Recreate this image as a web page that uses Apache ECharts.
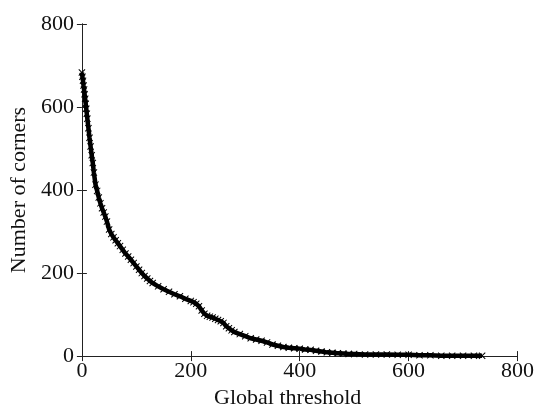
<!DOCTYPE html>
<html>
<head>
<meta charset="utf-8">
<script src="https://cdn.jsdelivr.net/npm/echarts@6/dist/echarts.min.js"></script>
<style>html,body{margin:0;padding:0;background:#fff;}#c{width:537px;height:414px;}</style>
</head>
<body>
<div id="c"></div>
<script>
const thresholds = [0,1,2,3,4,5,6,7,8,9,10,12,14,16,18,20,22,25,28,31,34,37,40,43,46,50,54,58,62,66,70,75,80,85,90,95,100,105,110,115,120,125,130,140,150,160,170,180,190,200,205,210,215,220,225,230,235,240,245,250,255,260,265,270,275,280,290,300,310,320,330,340,350,360,370,380,390,400,410,420,430,440,450,460,470,480,490,500,520,540,560,580,600,620,640,660,680,700,720,735];
const corners = [683,673,663,652,642,631,620,608,596,584,572,549,526,505,484,465,442,413,398,382,368,356,346,336,324,305,294,286,279,272,265,256,247,240,232,224,216,208,200,193,187,181,176,168,161,155,149,144,138,133,130,126,120,110,102,97,95,93,90,87,84,80,72,67,62,58,53,48,43,40,37,33,28,25,22,20,19,18,16,15,13,11,9,8,7,6,5,5,4,4,4,3,3,2,2,1,1,1,1,1];
const xTicks = [0,200,400,600,800];
const yTicks = [0,200,400,600,800];

const font = 'Liberation Serif';
const chart = echarts.init(document.getElementById('c'), null, {renderer:'canvas'});
const xSym = 'path://M1,0L5,4L9,0L10,1L6,5L10,9L9,10L5,6L1,10L0,9L4,5L0,1Z';
const axisCommon = {
  min: 0, max: 800, interval: 200,
  axisLine: {show: true, lineStyle: {color: '#222', width: 1}},
  axisTick: {show: true, inside: true, length: 5, lineStyle: {color: '#222'}},
  splitLine: {show: false}
};
chart.setOption({
  animation: false,
  backgroundColor: '#fff',
  grid: {left: 81, right: 17, top: 24, bottom: 52, containLabel: false},
  xAxis: [
    Object.assign({}, axisCommon, {
      type: 'value', position: 'bottom',
      axisLabel: {show: true, color: '#111', fontFamily: font, fontSize: 22, margin: 4,
        formatter: v => xTicks.includes(v) ? String(v) : ''},
      name: 'Global threshold', nameLocation: 'middle', nameGap: 29,
      nameTextStyle: {color: '#111', fontFamily: font, fontSize: 22, padding: [0,24,0,0]}
    }),
    Object.assign({}, axisCommon, {type: 'value', position: 'top', axisLabel: {show: false}})
  ],
  yAxis: [
    Object.assign({}, axisCommon, {
      type: 'value', position: 'left',
      axisLabel: {show: true, color: '#111', fontFamily: font, fontSize: 22, margin: 8,
        formatter: v => yTicks.includes(v) ? String(v) : ''},
      name: 'Number of corners', nameLocation: 'middle', nameGap: 47,
      nameTextStyle: {color: '#111', fontFamily: font, fontSize: 22}
    }),
    Object.assign({}, axisCommon, {type: 'value', position: 'right', axisLabel: {show: false}})
  ],
  series: [{
    type: 'line',
    xAxisIndex: 0, yAxisIndex: 0,
    data: thresholds.map((t, i) => [t, corners[i]]),
    symbol: xSym,
    symbolSize: 7,
    showAllSymbol: true,
    itemStyle: {color: '#000'},
    lineStyle: {color: '#000', width: 4.5},
    z: 3
  }]
});
</script>
</body>
</html>
